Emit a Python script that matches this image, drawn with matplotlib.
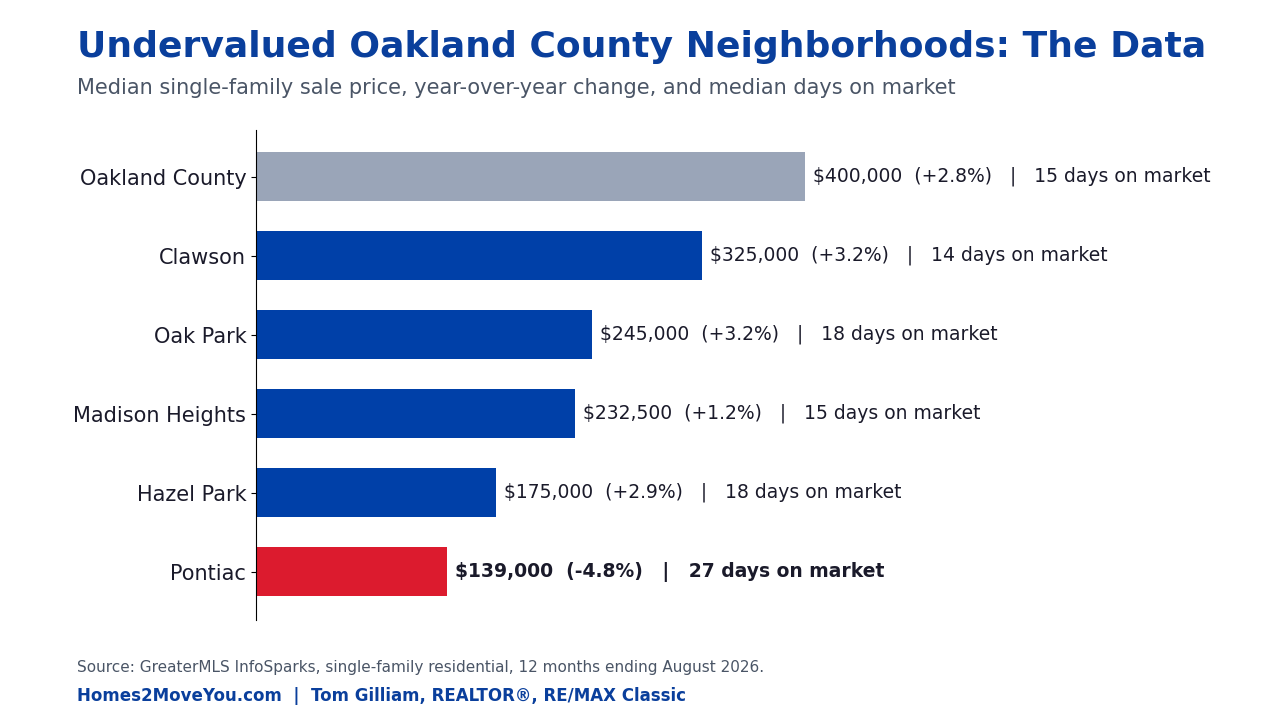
import matplotlib
matplotlib.use("Agg")
import matplotlib.pyplot as plt

names = ["Oakland County", "Clawson", "Oak Park", "Madison Heights", "Hazel Park", "Pontiac"]
prices = [400000, 325000, 245000, 232500, 175000, 139000]
changes = ["+2.8%", "+3.2%", "+3.2%", "+1.2%", "+2.9%", "-4.8%"]
days = [15, 14, 18, 15, 18, 27]
colors = ["#9AA5B8", "#0040A8", "#0040A8", "#0040A8", "#0040A8", "#DC1B2E"]

fig = plt.figure(figsize=(12.8, 7.2), dpi=100)
ax = fig.add_axes([0.2, 0.1389, 0.75, 0.6806])
ys = list(range(len(names)))[::-1]
ax.barh(ys, prices, height=0.62, color=colors)
ax.set_xlim(0, 700000)
ax.set_ylim(-0.61, 5.59)
ax.set_yticks(ys)
ax.set_yticklabels(names, fontsize=15, color="#1a1a2a")
ax.set_xticks([])
for s in ["top", "right", "bottom"]:
    ax.spines[s].set_visible(False)
ax.spines["left"].set_linewidth(0.8)
for y, p, c, d in zip(ys, prices, changes, days):
    bold = c.startswith("-")
    ax.text(p + 6000, y, f"${p:,}  ({c})   |   {d} days on market", va="center",
            ha="left", fontsize=13.5, color="#1a1a2a",
            fontweight="bold" if bold else "normal")

fig.text(0.06, 0.935, "Undervalued Oakland County Neighborhoods: The Data",
         fontsize=26, fontweight="bold", color="#0A3F9C", va="center")
fig.text(0.06, 0.878, "Median single-family sale price, year-over-year change, and median days on market",
         fontsize=15, color="#4a5566", va="center")
fig.text(0.06, 0.073, "Source: GreaterMLS InfoSparks, single-family residential, 12 months ending August 2026.",
         fontsize=11, color="#4a5566", va="center")
fig.text(0.06, 0.033, "Homes2MoveYou.com  |  Tom Gilliam, REALTOR®, RE/MAX Classic",
         fontsize=12, fontweight="bold", color="#0A3F9C", va="center")
fig.savefig("out.png", dpi=100)
